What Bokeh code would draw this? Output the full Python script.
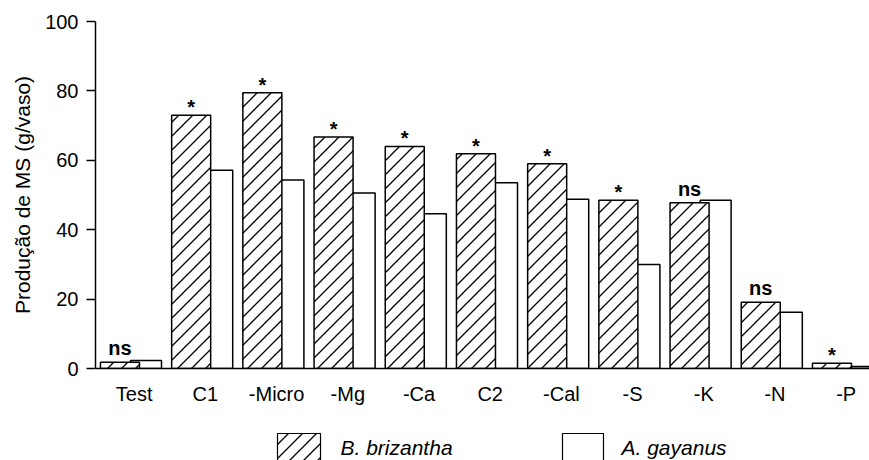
import base64
from bokeh.plotting import figure
from bokeh.layouts import column
from bokeh.models import ColumnDataSource, FixedTicker, Range1d, ImageURLTexture
from bokeh.core.properties import value
from bokeh.embed import file_html
from bokeh.resources import INLINE

categories = ["Test", "C1", "-Micro", "-Mg", "-Ca", "C2", "-Cal", "-S", "-K", "-N", "-P"]
brizantha = [1.8, 73.0, 79.5, 66.7, 64.0, 61.9, 59.0, 48.5, 47.8, 19.1, 1.5]
gayanus = [2.3, 57.1, 54.3, 50.6, 44.6, 53.5, 48.8, 30.0, 48.5, 16.2, 0.6]
significance = ["ns", "*", "*", "*", "*", "*", "*", "*", "ns", "ns", "*"]
series_names = ["B. brizantha", "A.  gayanus"]
y_ticks = [0, 20, 40, 60, 80, 100]

FONT = "Liberation Sans"
idx = list(range(len(categories)))

# 45-degree hatch tile
tile = ("<svg xmlns='http://www.w3.org/2000/svg' width='14' height='14'>"
        "<path d='M-1,1 L1,-1 M0,14 L14,0 M13,15 L15,13' stroke='black' "
        "stroke-width='1.3' fill='none'/></svg>")
tile_url = "data:image/svg+xml;base64," + base64.b64encode(tile.encode()).decode()
hatch_tex = {"diag": ImageURLTexture(url=tile_url)}

src = ColumnDataSource(dict(
    x=idx,
    xb=[i - 0.2 for i in idx],
    xg=[i + 0.166 for i in idx],
    b=brizantha,
    g=gayanus,
    sig=significance,
))

p = figure(width=869, height=414, x_range=Range1d(-0.5435, 10.327), y_range=Range1d(0, 100),
           toolbar_location=None, output_backend="svg",
           min_border_left=95, min_border_right=0, min_border_top=21, min_border_bottom=46)
p.outline_line_color = None
p.grid.visible = False

# white bars (behind)
p.vbar(x="xg", top="g", width=0.435, source=src, fill_color="white",
       line_color="black", line_width=1.5)
# hatched bars (front)
p.vbar(x="xb", top="b", width=0.548, source=src, fill_color="white",
       line_color="black", line_width=1.5, hatch_pattern=value("diag"),
       hatch_extra=hatch_tex, hatch_color="black")

# significance labels
ns_src = ColumnDataSource(dict(
    x=[src.data["xb"][i] for i in idx if significance[i] == "ns"],
    y=[brizantha[i] for i in idx if significance[i] == "ns"],
    t=[significance[i] for i in idx if significance[i] == "ns"],
))
st_src = ColumnDataSource(dict(
    x=[src.data["xb"][i] for i in idx if significance[i] == "*"],
    y=[brizantha[i] for i in idx if significance[i] == "*"],
    t=[significance[i] for i in idx if significance[i] == "*"],
))
p.text(x="x", y="y", text="t", source=ns_src, text_font=value(FONT), text_font_size="20px",
       text_font_style="bold", text_align="center", text_baseline="alphabetic", y_offset=-14)
p.text(x="x", y="y", text="t", source=st_src, text_font=value(FONT), text_font_size="20px",
       text_font_style="bold", text_align="center", text_baseline="alphabetic", y_offset=-8)

xa = p.xaxis[0]
xa.ticker = FixedTicker(ticks=idx)
xa.major_label_overrides = {i: c for i, c in enumerate(categories)}
xa.major_tick_out = 0
xa.major_tick_in = 0
xa.minor_tick_out = 0
xa.minor_tick_in = 0
xa.axis_line_width = 1.5
xa.major_label_text_font = FONT
xa.major_label_text_font_size = "20px"
xa.major_label_text_color = "black"
xa.major_label_standoff = 14

ya = p.yaxis[0]
ya.ticker = FixedTicker(ticks=y_ticks)
ya.major_tick_out = 9
ya.major_tick_in = 0
ya.minor_tick_out = 0
ya.minor_tick_in = 0
ya.axis_line_width = 1.5
ya.major_tick_line_width = 1.5
ya.major_label_text_font = FONT
ya.major_label_text_font_size = "20px"
ya.major_label_text_color = "black"
ya.major_label_standoff = 8
ya.axis_label = "Produção de MS (g/vaso)"
ya.axis_label_text_font = FONT
ya.axis_label_text_font_size = "21px"
ya.axis_label_text_font_style = "normal"
ya.axis_label_text_color = "black"
ya.axis_label_standoff = 8

# legend strip (frame is aligned with the main frame, which starts at page x=95)
lg = figure(width=869, height=46, x_range=Range1d(95, 869), y_range=Range1d(46, 0),
            toolbar_location=None, output_backend="svg", min_border=0,
            x_axis_location=None, y_axis_location=None)
lg.outline_line_color = None
lg.grid.visible = False
lg.quad(left=[277], right=[320], top=[19], bottom=[60], fill_color="white", line_color="black",
        line_width=1.2, hatch_pattern=value("diag"), hatch_extra=hatch_tex, hatch_color="black")
lg.quad(left=[562], right=[603], top=[19], bottom=[60], fill_color="white", line_color="black",
        line_width=1.2)
lg.text(x=[340, 621], y=[33, 33], text=series_names, text_font=value(FONT), text_font_size="21px",
        text_font_style="italic", text_align="left", text_baseline="alphabetic")

layout = column(p, lg, spacing=0)
open("out.html", "w").write(file_html(layout, INLINE))
